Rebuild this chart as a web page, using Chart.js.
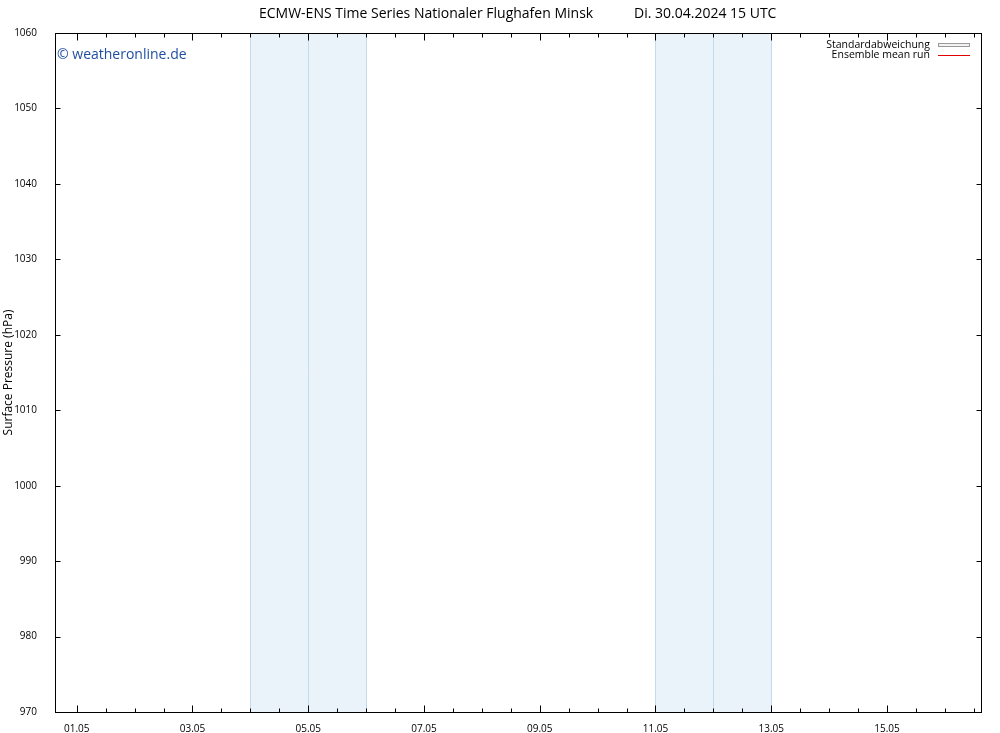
<!DOCTYPE html>
<html>
<head>
<meta charset="utf-8">
<script src="https://cdn.jsdelivr.net/npm/chart.js@4/dist/chart.umd.min.js"></script>
<style>
html,body{margin:0;padding:0;background:#fff;}
#wrap{width:1000px;height:733px;position:relative;}
</style>
</head>
<body>
<div id="wrap"><canvas id="c" width="1000" height="733"></canvas></div>
<script>
// ---- data ----
const titleLeft = 'ECMW-ENS Time Series Nationaler Flughafen Minsk';
const titleRight = 'Di. 30.04.2024 15 UTC';
const yAxisTitle = 'Surface Pressure (hPa)';
// x values are days since 01.05.2024 00 UTC
const xMin = -0.375;   // 30.04 15 UTC
const xMax = 15.625;   // 16.05 15 UTC
const labelDays = [0, 2, 4, 6, 8, 10, 12, 14];
const labelTexts = ['01.05', '03.05', '05.05', '07.05', '09.05', '11.05', '13.05', '15.05'];
const minorStep = 0.5;
const yMin = 970, yMax = 1060, yStep = 10;
const bandRanges = [[3, 5], [10, 12]];       // 04.05–06.05, 11.05–13.05
const bandMidLines = [4, 11];                // 05.05, 12.05
const ensembleMean = [];   // no values shown in the reference
const stdDevLow = [];
const stdDevHigh = [];
const legendLabels = ['Standardabweichung', 'Ensemble mean run'];

const FONT = "'Open Sans', 'DejaVu Sans', sans-serif";

const decor = {
  id: 'decor',
  beforeDatasetsDraw(chart) {
    const {ctx, chartArea: a, scales: {x}} = chart;
    ctx.save();
    bandRanges.forEach(([s, e]) => {
      const x0 = x.getPixelForValue(s), x1 = x.getPixelForValue(e);
      ctx.fillStyle = '#eaf2fa';
      ctx.fillRect(x0, a.top, x1 - x0, a.bottom - a.top);
    });
    ctx.strokeStyle = '#c3dbee';
    ctx.lineWidth = 1;
    const lines = [];
    bandRanges.forEach(([s, e]) => { lines.push(s, e); });
    bandMidLines.forEach(v => lines.push(v));
    lines.forEach(v => {
      const px = Math.round(x.getPixelForValue(v)) + 0.5;
      ctx.beginPath(); ctx.moveTo(px, a.top); ctx.lineTo(px, a.bottom); ctx.stroke();
    });
    ctx.restore();
  },
  afterDraw(chart) {
    const {ctx, chartArea: a, scales: {x, y}} = chart;
    ctx.save();
    // border
    ctx.strokeStyle = '#000';
    ctx.lineWidth = 1;
    const L = Math.round(a.left) + 0.5, R = Math.round(a.right) + 0.5;
    const T = Math.round(a.top) + 0.5, B = Math.round(a.bottom) + 0.5;
    ctx.strokeRect(L, T, R - L, B - T);
    // x ticks (inward, top and bottom)
    for (let v = Math.ceil(xMin / minorStep) * minorStep; v <= xMax; v += minorStep) {
      const px = Math.round(x.getPixelForValue(v)) + 0.5;
      const len = labelDays.includes(v) ? 7 : 4;
      ctx.beginPath();
      ctx.moveTo(px, B); ctx.lineTo(px, B - len);
      ctx.moveTo(px, T); ctx.lineTo(px, T + len);
      ctx.stroke();
    }
    // y ticks (inward, left and right)
    for (let v = yMin; v <= yMax; v += yStep) {
      const py = Math.round(y.getPixelForValue(v)) + 0.5;
      ctx.beginPath();
      ctx.moveTo(L, py); ctx.lineTo(L + 5, py);
      ctx.moveTo(R, py); ctx.lineTo(R - 5, py);
      ctx.stroke();
    }
    // titles
    ctx.fillStyle = '#000';
    ctx.font = '14px ' + FONT;
    ctx.textBaseline = 'middle';
    ctx.textAlign = 'left';
    ctx.fillText(titleLeft, 259, 14);
    ctx.fillText(titleRight, 634, 14);
    // y axis title
    ctx.save();
    ctx.translate(9, (a.top + a.bottom) / 2);
    ctx.rotate(-Math.PI / 2);
    ctx.textAlign = 'center';
    ctx.font = '12px ' + FONT;
    ctx.fillText(yAxisTitle, 0, 0);
    ctx.restore();
    // watermark
    ctx.fillStyle = '#1f4fa3';
    ctx.font = '14px ' + FONT;
    ctx.textAlign = 'left';
    ctx.fillText('\u00A9 weatheronline.de', 57, 55);
    // legend
    ctx.fillStyle = '#000';
    ctx.font = '10.5px ' + FONT;
    ctx.textAlign = 'right';
    ctx.fillText(legendLabels[0], 930, 45);
    ctx.fillText(legendLabels[1], 930, 55);
    ctx.fillStyle = '#f2f2f2';
    ctx.fillRect(938.5, 43.5, 31, 3);
    ctx.strokeStyle = '#999';
    ctx.strokeRect(938.5, 43.5, 31, 3);
    ctx.strokeStyle = '#e00000';
    ctx.beginPath(); ctx.moveTo(938, 55.5); ctx.lineTo(970, 55.5); ctx.stroke();
    ctx.restore();
  }
};

new Chart(document.getElementById('c'), {
  type: 'line',
  data: {
    datasets: [
      { label: legendLabels[0], data: stdDevHigh, borderColor: '#999', backgroundColor: '#f2f2f2', fill: '+1', pointRadius: 0 },
      { label: '', data: stdDevLow, borderColor: '#999', pointRadius: 0 },
      { label: legendLabels[1], data: ensembleMean, borderColor: '#e00000', borderWidth: 1, pointRadius: 0 }
    ]
  },
  options: {
    responsive: false,
    animation: false,
    layout: { padding: { top: 33, right: 19, left: 0, bottom: 0 } },
    plugins: { legend: { display: false }, title: { display: false }, tooltip: { enabled: false } },
    scales: {
      x: {
        type: 'linear', min: xMin, max: xMax,
        grid: { display: false },
        border: { display: false },
        afterBuildTicks(s) { s.ticks = labelDays.map(v => ({ value: v })); },
        afterFit(s) { s.height = 21; },
        ticks: {
          autoSkip: false, maxRotation: 0, padding: 3,
          color: '#000', font: { family: FONT, size: 10 },
          callback(v) { const i = labelDays.indexOf(v); return i >= 0 ? labelTexts[i] : ''; }
        }
      },
      y: {
        type: 'linear', min: yMin, max: yMax,
        grid: { display: false },
        border: { display: false },
        afterFit(s) { s.width = 55; },
        ticks: {
          stepSize: yStep, padding: 10,
          color: '#000', font: { family: FONT, size: 10 },
          callback(v) { return String(v); }
        }
      }
    }
  },
  plugins: [decor]
});
</script>
</body>
</html>
